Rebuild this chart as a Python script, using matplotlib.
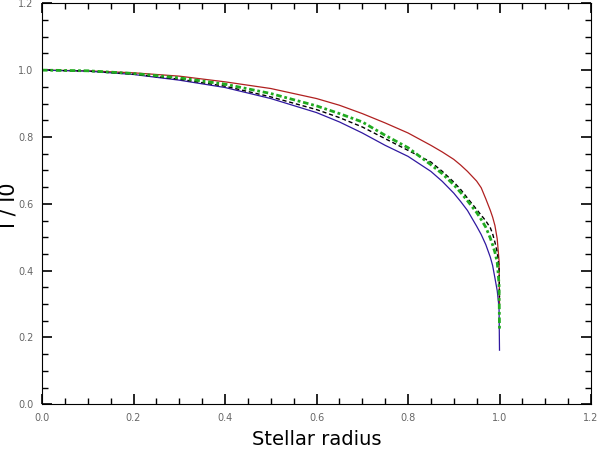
import matplotlib
matplotlib.use('Agg')
import matplotlib.pyplot as plt
from matplotlib.ticker import MultipleLocator

# radius sample points and intensity profiles
radius = [0.0, 0.1, 0.2, 0.3, 0.4, 0.5, 0.6, 0.65, 0.7, 0.75, 0.8, 0.85,
          0.875, 0.9, 0.915, 0.93, 0.95, 0.96, 0.97, 0.98, 0.985, 0.99,
          0.995, 0.999, 1.0]
i_red = [1.0, 0.998, 0.992, 0.982, 0.965, 0.945, 0.915, 0.895, 0.87, 0.842,
         0.812, 0.775, 0.755, 0.733, 0.716, 0.697, 0.668, 0.648, 0.615, 0.58,
         0.56, 0.535, 0.495, 0.43, 0.30]
i_blue = [1.0, 0.997, 0.987, 0.97, 0.948, 0.915, 0.873, 0.845, 0.812, 0.775,
          0.742, 0.697, 0.667, 0.632, 0.607, 0.58, 0.533, 0.508, 0.478, 0.44,
          0.415, 0.378, 0.34, 0.29, 0.162]
i_black = [1.0, 0.997, 0.988, 0.973, 0.952, 0.92, 0.882, 0.858, 0.83, 0.795,
           0.76, 0.725, 0.697, 0.665, 0.643, 0.617, 0.583, 0.566, 0.549, 0.528,
           0.51, 0.485, 0.455, 0.41, 0.32]
i_green = [1.0, 0.998, 0.99, 0.977, 0.958, 0.93, 0.893, 0.87, 0.845, 0.805,
           0.768, 0.717, 0.69, 0.657, 0.634, 0.609, 0.574, 0.553, 0.53, 0.497,
           0.477, 0.455, 0.425, 0.36, 0.225]

fig = plt.figure(figsize=(6.02, 4.62), dpi=100)
ax = fig.add_axes([42 / 602, 57.7 / 462, 549 / 602, 401 / 462])

ax.plot(radius, i_red, color='#b02020', lw=0.9)
ax.plot(radius, i_blue, color='#3018a0', lw=0.9)
ax.plot(radius, i_black, color='black', lw=1, ls=(0, (3, 2)))
ax.plot(radius, i_green, color='#20aa20', lw=2, ls=(0, (2, 1, 1, 1)))

ax.set_xlim(0, 1.2)
ax.set_ylim(0, 1.2)
ax.xaxis.set_major_locator(MultipleLocator(0.2))
ax.yaxis.set_major_locator(MultipleLocator(0.2))
ax.xaxis.set_minor_locator(MultipleLocator(0.05))
ax.yaxis.set_minor_locator(MultipleLocator(0.05))
ax.tick_params(which='both', direction='in', top=True, right=True,
               labelsize=7, labelcolor='#666666', pad=6)
ax.tick_params(which='major', length=7, width=1.2)
ax.tick_params(which='minor', length=4, width=1)
ax.xaxis.set_major_formatter(plt.FuncFormatter(lambda v, p: f'{v:.1f}'))
ax.yaxis.set_major_formatter(plt.FuncFormatter(lambda v, p: f'{v:.1f}'))

ax.set_xlabel('Stellar radius', fontsize=14, labelpad=5)
fig.text(9 / 602, 1 - 205 / 462, 'I / I0', rotation=90, fontsize=15,
         ha='center', va='center')

fig.savefig('out.png', dpi=100)
